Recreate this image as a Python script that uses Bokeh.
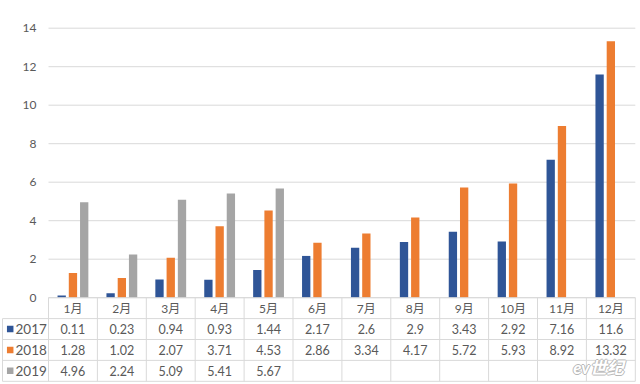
from bokeh.plotting import figure
from bokeh.models import ColumnDataSource, Range1d
from bokeh.embed import file_html
from bokeh.resources import INLINE
from bokeh.core.properties import value

# ---- data ----
months = ["1月", "2月", "3月", "4月", "5月", "6月", "7月", "8月", "9月", "10月", "11月", "12月"]
series_names = ["2017", "2018", "2019"]
s2017 = [0.11, 0.23, 0.94, 0.93, 1.44, 2.17, 2.6, 2.9, 3.43, 2.92, 7.16, 11.6]
s2018 = [1.28, 1.02, 2.07, 3.71, 4.53, 2.86, 3.34, 4.17, 5.72, 5.93, 8.92, 13.32]
s2019 = [4.96, 2.24, 5.09, 5.41, 5.67]
y_ticks = [0, 2, 4, 6, 8, 10, 12, 14]
watermark = "ev世纪"

colors = ["#2F5597", "#ED7D31", "#A5A5A5"]
grid_color = "#D9D9D9"
text_color = "#595959"
FONT = "Lato, 'Noto Sans CJK SC', sans-serif"

# ---- geometry (pixels) ----
W, H = 640, 384
LEFT = 48.0          # px from figure left to month column 0
col_px = 48.9        # px per month column
x_start = -LEFT / col_px
x_end = (W - LEFT) / col_px
Y0_PX = 297.2        # px from figure top to value 0
val_px = 19.25       # px per value unit
row_px = 20.9        # px per table row

def px_x(px):
    return x_start + px / col_px

p = figure(width=W, height=H, output_backend="svg", toolbar_location=None,
           x_range=Range1d(x_start, x_end),
           y_range=Range1d(-(H - Y0_PX) / val_px, Y0_PX / val_px),
           x_axis_location=None, y_axis_location=None,
           min_border_left=0, min_border_right=0, min_border_top=0, min_border_bottom=0,
           outline_line_color=None)
p.extra_y_ranges = {"table": Range1d((H - Y0_PX) / row_px, -Y0_PX / row_px)}
p.xgrid.visible = False
p.ygrid.visible = False
p.background_fill_color = "white"
p.border_fill_color = "white"

n = len(months)

# gridlines
p.segment(x0=[0] * len(y_ticks), y0=y_ticks, x1=[n] * len(y_ticks), y1=y_ticks,
          line_color=grid_color, line_width=1)
# y tick labels
p.text(x=[px_x(LEFT - 12)] * len(y_ticks), y=y_ticks, text=[str(v) for v in y_ticks],
       text_align="right", text_baseline="middle", text_font=value(FONT),
       text_font_size="12px", text_color=text_color)

# bars
offsets = [-0.23, 0.0, 0.23]
all_series = [s2017, s2018, s2019]
for vals, off, c in zip(all_series, offsets, colors):
    src = ColumnDataSource(dict(x=[i + 0.5 + off for i in range(len(vals))], top=vals))
    p.vbar(x="x", top="top", bottom=0, width=0.17, source=src, fill_color=c, line_color=None)

# ---- data table ----
left_edge = px_x(2)
hx0 = [0, left_edge, left_edge, left_edge, left_edge]
hx1 = [n] * 5
hy = [0, 1, 2, 3, 4]
p.segment(x0=hx0, y0=hy, x1=hx1, y1=hy, line_color=grid_color, line_width=1, y_range_name="table")
vx = list(range(n + 1))
p.segment(x0=vx, y0=[0] * len(vx), x1=vx, y1=[4] * len(vx), line_color=grid_color,
          line_width=1, y_range_name="table")
p.segment(x0=[left_edge], y0=[1], x1=[left_edge], y1=[4], line_color=grid_color,
          line_width=1, y_range_name="table")

p.text(x=[i + 0.5 for i in range(n)], y=[0.5] * n, text=months, y_range_name="table",
       text_align="center", text_baseline="middle", text_font=value(FONT),
       text_font_size="12px", text_color=text_color)

for r, vals in enumerate(all_series, start=1):
    p.text(x=[i + 0.5 for i in range(len(vals))], y=[r + 0.5] * len(vals), y_range_name="table",
           text=[str(v) for v in vals], text_align="center", text_baseline="middle",
           text_font=value(FONT), text_font_size="12.5px", text_color=text_color)

p.scatter(x=[px_x(9.7)] * 3, y=[1.5, 2.5, 3.5], marker="square", size=6.5, y_range_name="table",
          fill_color=colors, line_color=None)
p.text(x=[px_x(15)] * 3, y=[1.5, 2.5, 3.5], text=series_names, text_align="left",
       y_range_name="table", text_baseline="middle", text_font=value(FONT),
       text_font_size="13.5px", text_color=text_color)

# watermark: white text with a light grey outline
for dx, dy in [(-1, 0), (1, 0), (0, -1), (0, 1)]:
    p.text(x=[(598 - LEFT) / col_px], y=[3.35], text=[watermark], y_range_name="table",
           x_offset=dx, y_offset=dy, text_align="center", text_baseline="middle",
           text_font=value(FONT), text_font_size="17px", text_font_style="bold italic",
           text_color="#b8b8b8")
p.text(x=[(598 - LEFT) / col_px], y=[3.35], text=[watermark], y_range_name="table",
       text_align="center", text_baseline="middle", text_font=value(FONT),
       text_font_size="17px", text_font_style="bold italic", text_color="white")

open("out.html", "w").write(file_html(p, INLINE))
